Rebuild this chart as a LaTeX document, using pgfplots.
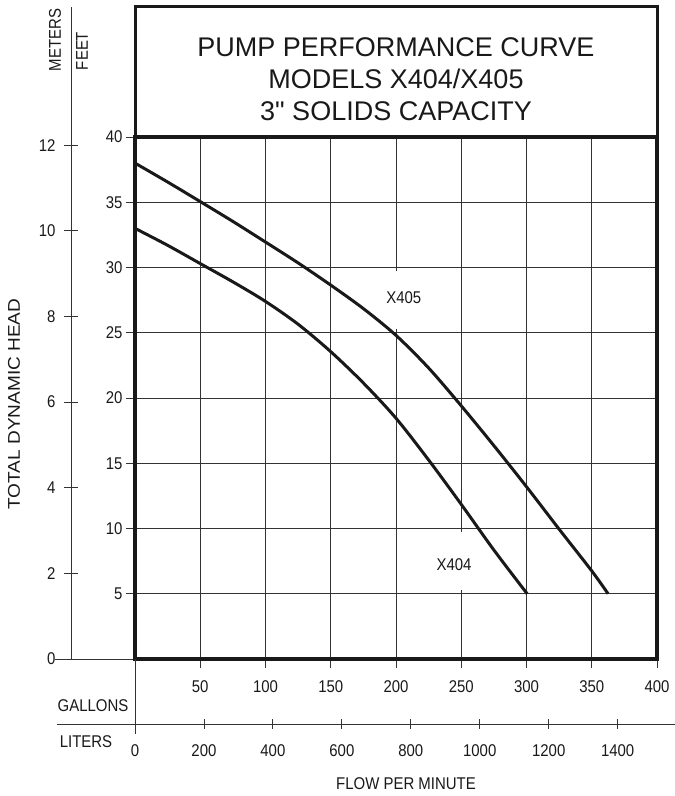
\documentclass[border=0pt]{standalone}
\usepackage{fontspec}
\setmainfont{Liberation Sans}
\newfontfamily\narrowfont{Liberation Sans}[FakeStretch=0.88]
\newfontfamily\wideheadfont{Liberation Sans}[FakeStretch=1.12]
\newfontfamily\titlefont{Liberation Sans}
\usepackage{pgfplots}
\pgfplotsset{compat=1.18}

\newcommand\lab{\narrowfont\fontsize{17}{20}\selectfont}
\definecolor{gridgray}{gray}{0.2}

\pgfplotsset{
  pumpbase/.style={
    scale only axis,
    anchor=south west,
    clip=false,
    tick align=outside,
    ticklabel style={font=\lab, text=black!90},
    tick style={line width=0.8pt, gridgray},
    /pgf/number format/assume math mode=true,
    /pgf/number format/1000 sep={},
  },
}

\begin{document}
\begin{tikzpicture}
\useasboundingbox (0,0) rectangle (675pt,796pt);

% head in meters, separate scale on the far left
\begin{axis}[pumpbase,
    at={(71pt,137pt)}, width=10pt, height=652pt,
    xmin=0, xmax=1, ymin=0, ymax=15.228,
    axis x line=none, axis y line=left,
    axis line style={-, line width=0.8pt, gridgray},
    ytick={0,2,...,12}, major tick length=14pt,
    yticklabel style={xshift=-5pt},
  ]
  \draw[line width=0.8pt, gridgray] (rel axis cs:0,0) ++(-16pt,0) -- ++(80pt,0);
\end{axis}

% flow in liters per minute
\begin{axis}[pumpbase,
    at={(135pt,72pt)}, width=522pt, height=1pt,
    xmin=0, xmax=1514.16, ymin=0, ymax=1,
    axis y line=none, axis x line=bottom,
    axis line style={draw=none},
    xtick={0,200,...,1400}, major tick length=10pt,
    xticklabel style={yshift=-12pt},
  ]
  \draw[line width=0.8pt, gridgray] (rel axis cs:0,0) ++(-78pt,0) -- ++(620pt,0);
\end{axis}

% main chart: gallons per minute against feet
\begin{axis}[pumpbase,
    at={(135pt,137pt)}, width=522pt, height=522pt,
    xmin=0, xmax=400, ymin=0, ymax=40,
    xtick={50,100,...,400}, ytick={5,10,...,40},
    xtick pos=bottom, ytick pos=left,
    major tick length=9pt,
    grid=major,
    major grid style={line width=0.8pt, gridgray},
    axis line style={line width=3.5pt, black!90},
    xticklabel style={yshift=-9pt},
  ]
  \draw[line width=0.8pt, gridgray] (axis cs:0,0) -- ++(0,-75pt);

  % white patches behind the curve names, which break the grid
  \node[fill=white, minimum height=58pt, minimum width=30pt] at (axis cs:206,27.5) {};
  \node[fill=white, minimum height=58pt, minimum width=30pt] at (axis cs:244.5,7.5) {};
  \node[font=\lab, text=black!90] at (axis cs:206,27.7) {X405};
  \node[font=\lab, text=black!90] at (axis cs:244.5,7.2) {X404};

  % X405
  \addplot[line width=3pt, black!90, smooth] coordinates {
    (0,38.0) (25,36.55) (50,35.05) (75,33.53) (100,31.95) (125,30.35)
    (150,28.65) (175,26.85) (200,24.8) (225,22.3) (250,19.4)
    (275,16.35) (300,13.2) (325,9.95) (350,6.75) (362.5,5.0)
  };
  % X404
  \addplot[line width=3pt, black!90, smooth] coordinates {
    (0,33.0) (25,31.7) (50,30.3) (75,28.9) (100,27.4) (125,25.65)
    (150,23.55) (175,21.15) (200,18.45) (225,15.25) (250,11.85)
    (275,8.35) (300.5,5.0)
  };

  % title box
  \draw[line width=3pt, black!90] (axis cs:0,40) rectangle (axis cs:400,50);
  \node[align=center, font={\titlefont\fontsize{27}{32}\selectfont}, text=black!90]
    at (axis cs:200,44.45) {PUMP PERFORMANCE CURVE\\MODELS X404/X405\\3" SOLIDS CAPACITY};
\end{axis}

\draw[line width=0.8pt, gridgray] (135pt,137pt) -- (135pt,62pt);

\node[rotate=90, font=\lab, text=black!90] at (55pt,756pt) {METERS};
\node[rotate=90, font=\lab, text=black!90] at (82pt,745pt) {FEET};
\node[rotate=90, font={\wideheadfont\fontsize{17}{20}\selectfont}, text=black!90]
  at (14pt,392pt) {TOTAL DYNAMIC HEAD};
\node[font=\lab, text=black!90] at (93pt,90pt) {GALLONS};
\node[font=\lab, text=black!90] at (86pt,54pt) {LITERS};
\node[font=\lab, text=black!90] at (406pt,12pt) {FLOW PER MINUTE};
\end{tikzpicture}
\end{document}
